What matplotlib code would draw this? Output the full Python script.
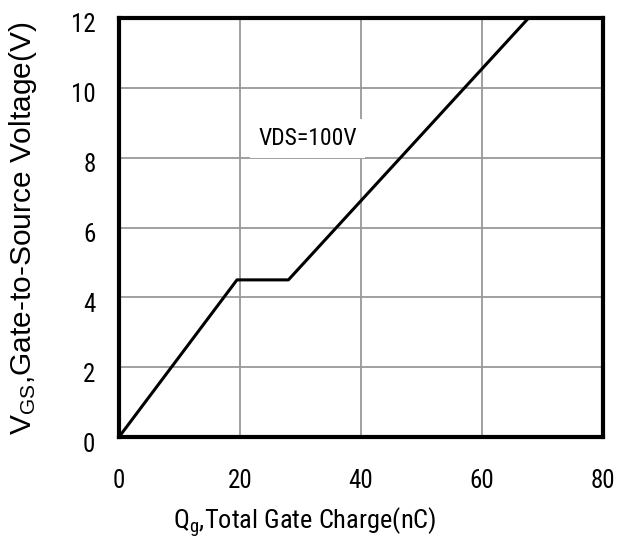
import matplotlib
matplotlib.use("Agg")
import matplotlib.pyplot as plt
from matplotlib.transforms import ScaledTranslation

plt.rcParams['font.family'] = ['Roboto Condensed', 'Liberation Sans', 'DejaVu Sans']

# gate charge curve
qg = [0, 19.5, 28.0, 67.7]
vgs = [0, 4.5, 4.5, 12.0]

x_ticks = [0, 20, 40, 60, 80]
y_ticks = [0, 2, 4, 6, 8, 10, 12]

fig = plt.figure(figsize=(6.18, 5.56), dpi=100)
ax = fig.add_axes([119 / 618, 1 - 437 / 556, 484 / 618, 419 / 556])

ax.plot(qg, vgs, color='black', linewidth=2.2, zorder=3, clip_on=False)

ax.set_xlim(0, 80)
ax.set_ylim(0, 12)
ax.set_xticks(x_ticks)
ax.set_yticks(y_ticks)
ax.tick_params(length=0, labelsize=18)
ax.tick_params(axis='x', pad=23)
ax.tick_params(axis='y', pad=17)
# y labels sit a little below their grid lines in the original
shift = ScaledTranslation(0, -5 / 100, fig.dpi_scale_trans)
for lab in ax.get_yticklabels():
    lab.set_transform(lab.get_transform() + shift)
ax.grid(True, color='#999999', linewidth=1.3)
ax.set_axisbelow(True)
for sp in ax.spines.values():
    sp.set_linewidth(3)

ax.text(31.2, 8.55, 'VDS=100V', fontsize=17, ha='center', va='center', zorder=4,
        bbox=dict(facecolor='white', edgecolor='none', pad=6))

# y title is in the wider face, x title in the narrow one
fig.text(23 / 618, 1 - 228 / 556, r'$\mathregular{V_{GS}}$,Gate-to-Source Voltage(V)',
         rotation=90, fontsize=21.5, ha='center', va='center',
         family=['Liberation Sans', 'DejaVu Sans'])
fig.text(305 / 618, 1 - 522 / 556, r'$\mathregular{Q_{g}}$,Total Gate Charge(nC)',
         fontsize=19, ha='center', va='center')

fig.savefig('out.png', dpi=100)
